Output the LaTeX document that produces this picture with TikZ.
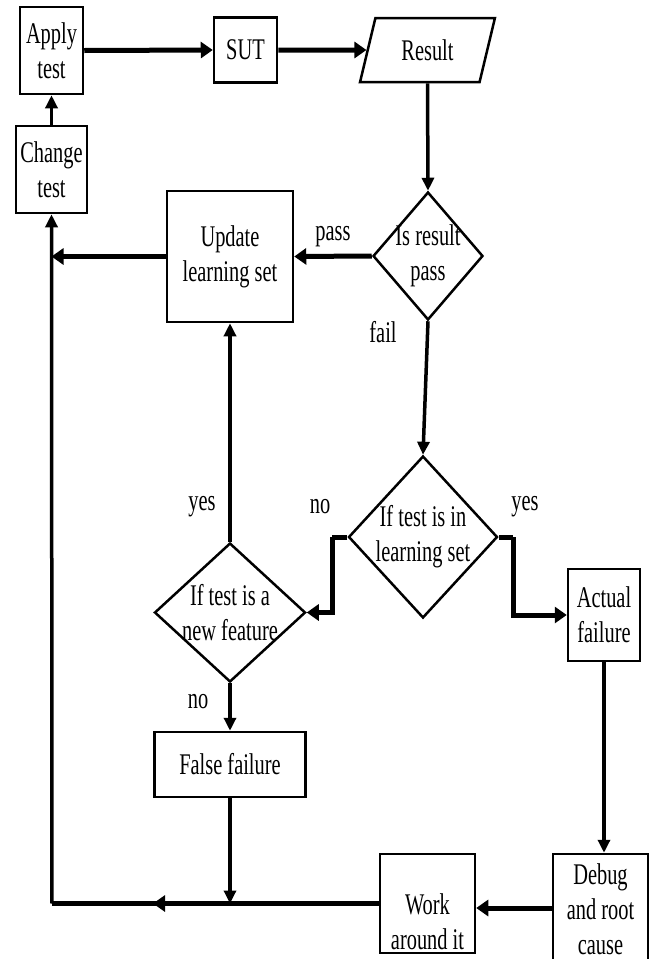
\documentclass[tikz,border=0pt]{standalone}
\usepackage{fontspec}
\setmainfont[FakeStretch=0.68]{Liberation Serif}
\usetikzlibrary{arrows.meta,shapes.geometric}
\begin{document}
\begin{tikzpicture}[x=1pt,y=-1pt,
 box/.style={draw, line width=2.5pt, inner sep=0pt, align=center, font=\fontsize{30}{35}\selectfont},
 dia/.style={draw, diamond, line width=2.5pt, inner sep=0pt},
 txt/.style={align=center, font=\fontsize{30}{35}\selectfont, inner sep=0pt},
 arrA/.style={line width=5pt, -{Triangle[length=12pt,width=16pt]}},
 arrB/.style={line width=3.5pt, -{Triangle[length=13pt,width=12pt]}},
 lnA/.style={line width=5pt},
 lnB/.style={line width=3.5pt},
]
\useasboundingbox[fill=white] (0,0) rectangle (654,959);

% boxes
\node[box, minimum width=63pt, minimum height=87pt] (apply) at (51.5,50.5) {Apply\\test};
\node[box, minimum width=71pt, minimum height=87pt] (change) at (51.5,169.5) {Change\\test};
\node[box, minimum width=63pt, minimum height=65pt] (sut) at (245.5,50) {SUT};
\node[draw, line width=2.5pt, trapezium, trapezium left angle=70, trapezium right angle=110,
      trapezium stretches=true, minimum width=135pt, minimum height=64pt, inner sep=0pt,
      font=\fontsize{30}{35}\selectfont] (res) at (427.5,50) {Result};
\node[box, minimum width=126pt, minimum height=131pt] (upd) at (230,256.5) {Update\\learning set};
\node[box, minimum width=72pt, minimum height=92pt] (act) at (604,615) {Actual\\failure};
\node[box, minimum width=151pt, minimum height=65pt] (ff) at (230,764.5) {False failure};
\node[box, minimum width=95pt, minimum height=99pt] (work) at (427.5,903.5) {};
\node[txt] at (427.5,922) {Work\\around it};
\node[box, minimum width=95pt, minimum height=108pt] (dbg) at (600.5,908) {};
\node[txt] at (600.5,909) {Debug\\and root\\cause};

% diamonds
\node[dia, minimum width=110pt, minimum height=128pt] (d1) at (428,256) {};
\node[txt] at (d1) {Is result\\pass};
\node[dia, minimum width=149pt, minimum height=162pt] (d2) at (423,537) {};
\node[txt] at (d2) {If test is in\\learning set};
\node[dia, minimum width=151pt, minimum height=139pt] (d3) at (230,612.5) {};
\node[txt] at (d3) {If test is a\\new feature};

% helper coordinates
\coordinate (lc) at (52,903.5);
\coordinate (bm) at (153,903.5);
\coordinate (nl) at (332,537);
\coordinate (yr) at (513,537);

% connectors
\draw[arrA] (apply.east) -- (sut.west);
\draw[arrA] (sut.east) -- (res.west);
\draw[arrB] (res.south) -- (d1.north);
\draw[arrA] (d1.west) -- (upd.east);
\draw[arrA] (upd.west) -- (upd.west -| change.south);
\draw[arrB] (change.north) -- (apply.south);
\draw[arrB] (d1.south) -- (d2.north);
\draw[lnA] (d2.west) -- (nl);
\draw[arrA] (nl) |- (d3.east);
\draw[lnA] (d2.east) -- (yr);
\draw[arrA] (yr) |- (act.west);
\draw[arrB] (d3.north) -- (upd.south);
\draw[arrB] (d3.south) -- (ff.north);
\draw[arrB] (ff.south) -- (ff.south |- work.west);
\draw[arrB] (act.south) -- (act.south |- dbg.north);
\draw[arrA] (dbg.west) -- (dbg.west -| work.east);
\draw[lnA] (work.west) -- (lc);
\draw[arrA] (work.west) -- (bm);
\draw[arrB] (lc) -- (change.south);

% labels
\node[txt] at (333,237) {pass};
\node[txt] at (383,332) {fail};
\node[txt] at (202,507) {yes};
\node[txt] at (320,507) {no};
\node[txt] at (525,507) {yes};
\node[txt] at (198,702) {no};
\end{tikzpicture}
\end{document}
